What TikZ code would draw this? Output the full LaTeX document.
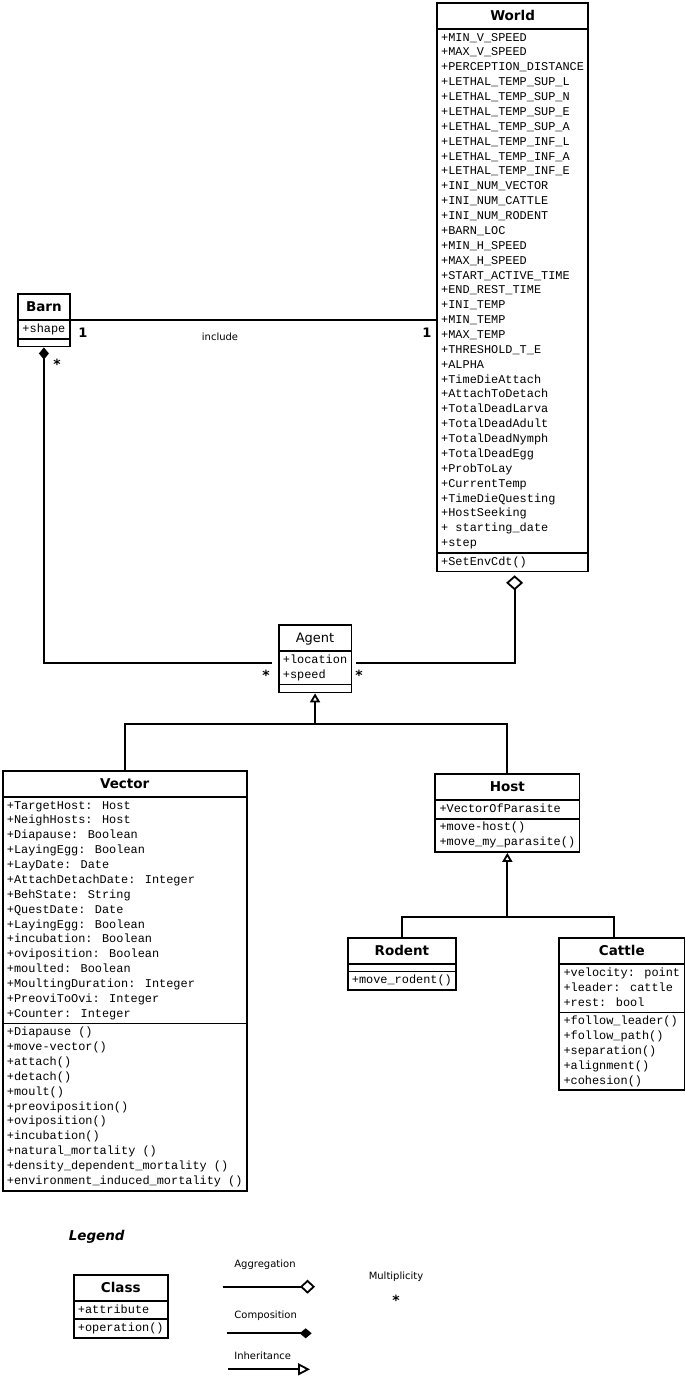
\documentclass[tikz,border=0pt]{standalone}
\usepackage{fontspec}
\usetikzlibrary{arrows.meta, shapes.multipart}
\newfontfamily\umlmono{Liberation Mono}
\newfontfamily\umlsans{DejaVu Sans}[BoldItalicFont={DejaVu Sans Bold Oblique}]
\newcommand{\attrfont}{\umlmono\fontsize{11.9}{14.87}\selectfont}
\newcommand{\titlefont}{\umlsans\bfseries\fontsize{13.5}{15}\selectfont}
\newcommand{\agentfont}{\umlsans\fontsize{13}{15}\selectfont}
\newcommand{\tstrut}{\rule[-6.45pt]{0pt}{22.4pt}}

\begin{document}
\begin{tikzpicture}[x=1pt, y=-1pt,
  umlclass/.style={rectangle split, rectangle split parts=3, draw, line width=1.8pt,
    rectangle split part align={center,left,left}, align=left,
    inner xsep=4.3pt, inner ysep=0.9pt, rectangle split empty part height=4pt,
    anchor=north west, font=\attrfont},
  link/.style={line width=1.8pt},
  composition/.style={link, -{Diamond[length=12pt,width=10pt]}},
  aggregation/.style={link, -{Diamond[open,length=15pt,width=17pt]}},
  inheritance/.style={link, -{Triangle[open,length=9pt,width=10pt]}},
  legendtext/.style={font=\umlsans\fontsize{10}{12}\selectfont},
  multone/.style={font=\umlsans\bfseries\fontsize{13}{15}\selectfont},
  multstar/.style={font=\umlsans\bfseries\fontsize{14}{16}\selectfont}]
\path[use as bounding box, fill=white] (0,0) rectangle (685,1377);

% classes
\node[umlclass] (World) at (436,2) {\tstrut{\titlefont World}
  \nodepart{two}\strut+MIN\_V\_SPEED\\+MAX\_V\_SPEED\\+PERCEPTION\_DISTANCE\\
  +LETHAL\_TEMP\_SUP\_L\\+LETHAL\_TEMP\_SUP\_N\\+LETHAL\_TEMP\_SUP\_E\\+LETHAL\_TEMP\_SUP\_A\\
  +LETHAL\_TEMP\_INF\_L\\+LETHAL\_TEMP\_INF\_A\\+LETHAL\_TEMP\_INF\_E\\
  +INI\_NUM\_VECTOR\\+INI\_NUM\_CATTLE\\+INI\_NUM\_RODENT\\+BARN\_LOC\\
  +MIN\_H\_SPEED\\+MAX\_H\_SPEED\\+START\_ACTIVE\_TIME\\+END\_REST\_TIME\\
  +INI\_TEMP\\+MIN\_TEMP\\+MAX\_TEMP\\+THRESHOLD\_T\_E\\+ALPHA\\
  +TimeDieAttach\\+AttachToDetach\\+TotalDeadLarva\\+TotalDeadAdult\\
  +TotalDeadNymph\\+TotalDeadEgg\\+ProbToLay\\+CurrentTemp\\
  +TimeDieQuesting\\+HostSeeking\\+ starting\_date\\+step\strut
  \nodepart{three}\strut+SetEnvCdt()};
\node[umlclass] (Barn) at (17.3,293.3) {\tstrut{\titlefont Barn}
  \nodepart{two}\strut+shape};
\node[umlclass] (Agent) at (277.7,624.3) {\tstrut{\agentfont Agent}
  \nodepart{two}\strut+location\\+speed\strut};
\node[umlclass] (Vector) at (1.7,770) {\tstrut{\titlefont Vector}
  \nodepart{two}\strut+TargetHost: Host\\+NeighHosts: Host\\+Diapause: Boolean\\
  +LayingEgg: Boolean\\+LayDate: Date\\+AttachDetachDate: Integer\\
  +BehState: String\\+QuestDate: Date\\+LayingEgg: Boolean\\
  +incubation: Boolean\\+oviposition: Boolean\\+moulted: Boolean\\
  +MoultingDuration: Integer\\+PreoviToOvi: Integer\\+Counter: Integer\strut
  \nodepart{three}\strut+Diapause ()\\+move-vector()\\+attach()\\+detach()\\
  +moult()\\+preoviposition()\\+oviposition()\\+incubation()\\
  +natural\_mortality ()\\+density\_dependent\_mortality ()\\
  +environment\_induced\_mortality ()\strut};
\node[umlclass] (Host) at (434.3,773.3) {\tstrut{\titlefont Host}
  \nodepart{two}\strut+VectorOfParasite
  \nodepart{three}\strut+move-host()\\+move\_my\_parasite()\strut};
\node[umlclass] (Rodent) at (346.7,936.7) {\tstrut{\titlefont Rodent}
  \nodepart{three}\strut+move\_rodent()};
\node[umlclass] (Cattle) at (558.3,937.3) {\tstrut{\titlefont Cattle}
  \nodepart{two}\strut+velocity: point\\+leader: cattle\\+rest: bool\strut
  \nodepart{three}\strut+follow\_leader()\\+follow\_path()\\+separation()\\
  +alignment()\\+cohesion()\strut};

% associations
\draw[link] (Barn.east) -- (Barn.east -| World.west);
\draw[composition, shorten <=6pt] ([yshift=-4pt]Agent.west) -| (Barn.south);
\draw[aggregation, shorten <=4pt, shorten >=3pt] ([yshift=-4pt]Agent.east) -| ([xshift=2pt]World.south);
\coordinate (agentbus) at ([yshift=-31pt]Agent.south);
\draw[link] (Vector.north) |- (agentbus) -| (Host.north);
\draw[inheritance] (agentbus) -- (Agent.south);
\coordinate (hostbus) at ([yshift=-64pt]Host.south);
\draw[link] (Rodent.north) |- (hostbus) -| ([xshift=-8pt]Cattle.north);
\draw[inheritance] (hostbus) -- (Host.south);

% multiplicities
\node[multone] (barnone) at (83,333) {1};
\node[multone] (worldone) at (427,333) {1};
\node[legendtext] (include) at (220,337) {include};
\node[multstar] (barnstar) at (57,364) {*};
\node[multstar] (agentstarl) at (266,675) {*};
\node[multstar] (agentstarr) at (359,675) {*};

% legend
\node[font=\umlsans\bfseries\itshape\fontsize{13.5}{16}\selectfont] (legend) at (96.7,1236.7) {Legend};
\node[umlclass] (Class) at (72.7,1274) {\tstrut{\titlefont Class}
  \nodepart{two}\strut+attribute
  \nodepart{three}\strut+operation()};
\node[legendtext] (agglabel) at (265,1264.3) {Aggregation};
\coordinate (aggstart) at (222.7,1286.7);
\coordinate (aggend) at (315,1286.7);
\draw[aggregation, -{Diamond[open,length=15pt,width=14pt]}] (aggstart) -- (aggend);
\node[legendtext] (complabel) at (265.7,1316) {Composition};
\coordinate (compstart) at (226.7,1333.3);
\coordinate (compend) at (311.7,1333.3);
\draw[composition] (compstart) -- (compend);
\node[legendtext] (inhlabel) at (262.7,1355.7) {Inheritance};
\coordinate (inhstart) at (228.3,1369.3);
\coordinate (inhend) at (310,1369.3);
\draw[inheritance, -{Triangle[open,length=12pt,width=12pt]}] (inhstart) -- (inhend);
\node[legendtext] (multlabel) at (396,1276.7) {Multiplicity};
\node[multstar] (legendstar) at (396,1300) {*};
\end{tikzpicture}
\end{document}
